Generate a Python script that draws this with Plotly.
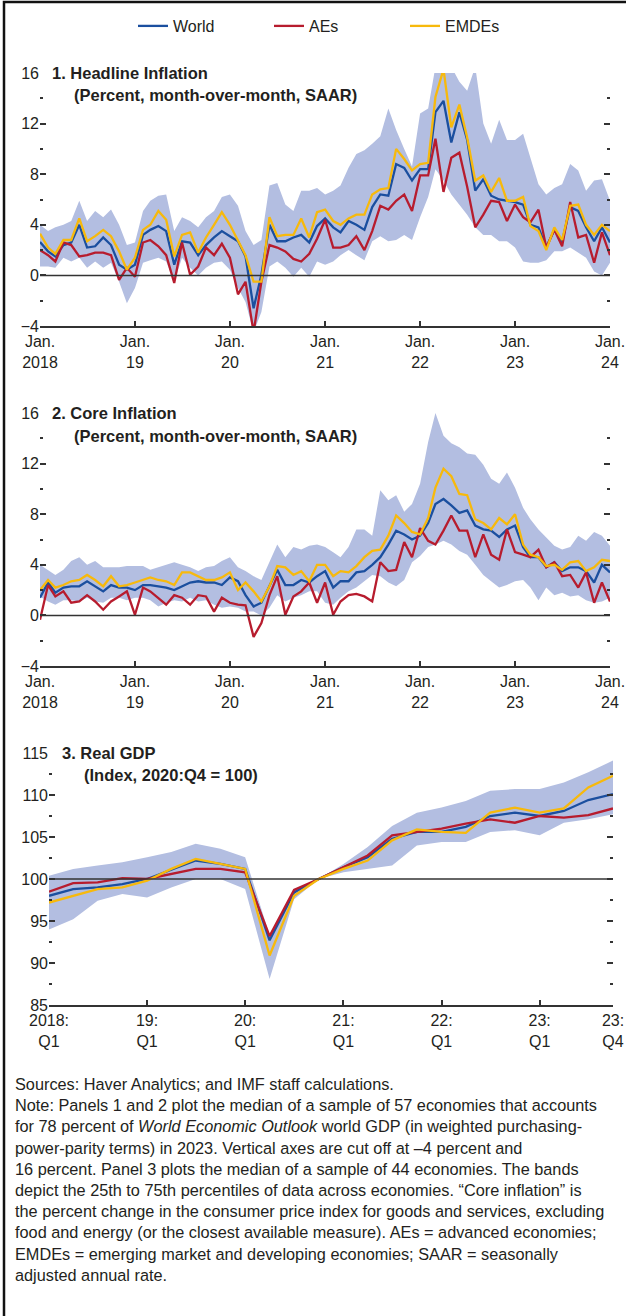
import plotly.graph_objects as go
import pandas as pd

W, H = 626, 1316

# ---------------- DATA ----------------
months = pd.date_range("2018-01-01", "2024-01-01", freq="MS")   # 73 monthly points
quarters = pd.date_range("2018-01-01", "2023-10-01", freq="QS")  # 24 quarterly points

# Panel 1: Headline inflation (percent, m/m SAAR)
hl_world = [2.65, 1.9, 1.5, 2.4, 2.6, 4.0, 2.2, 2.3, 3.0, 2.4, 0.85, 0.45,
            0.85, 3.2, 3.6, 3.9, 3.5, 0.85, 2.7, 2.6, 1.6, 2.4, 3.0, 3.5,
            3.1, 2.7, 1.5, -2.6, 0.05, 4.0, 2.7, 2.7, 3.0, 3.2, 2.6, 3.9,
            4.5, 3.8, 3.4, 4.3, 4.0, 3.6, 5.4, 6.4, 6.3, 8.8, 8.5, 7.5,
            8.4, 8.4, 12.9, 13.8, 10.5, 12.9, 10.7, 6.7, 7.6, 6.3, 6.0, 5.9,
            5.8, 5.6, 4.0, 3.8, 2.2, 3.6, 2.7, 5.4, 5.1, 3.8, 2.7, 3.8,
            2.6]
hl_aes = [2.0, 1.6, 1.1, 2.6, 2.4, 1.5, 1.6, 1.8, 1.8, 1.6, -0.35, 0.6,
          -0.1, 2.6, 2.8, 2.3, 1.6, -0.6, 2.6, 0.05, 0.7, 2.2, 1.6, 2.5,
          1.4, -1.5, -0.5, -4.5, -0.5, 2.4, 2.2, 1.9, 1.3, 1.1, 1.7, 2.9,
          4.4, 2.2, 2.2, 2.4, 3.1, 2.0, 3.5, 5.5, 5.2, 5.9, 6.4, 5.1,
          7.9, 7.9, 10.8, 6.6, 9.3, 9.7, 7.0, 3.8, 4.8, 5.9, 5.8, 4.3,
          5.6, 4.6, 4.2, 5.2, 2.2, 3.6, 2.3, 5.8, 3.0, 3.2, 1.0, 3.4,
          1.6]
hl_emdes = [3.3, 2.2, 1.7, 2.8, 2.8, 4.5, 2.7, 3.1, 3.6, 3.1, 1.9, 0.45,
            1.4, 3.6, 4.0, 5.1, 4.4, 1.5, 3.2, 3.4, 1.8, 3.0, 4.0, 5.0,
            4.0, 2.8, 1.6, -0.5, -0.5, 4.6, 3.1, 3.2, 3.2, 4.5, 3.0, 5.0,
            5.2, 4.3, 4.0, 4.5, 4.8, 4.8, 6.4, 6.8, 6.9, 10.0, 9.2, 8.3,
            8.8, 8.9, 14.1, 16.3, 11.7, 13.5, 10.9, 7.5, 7.9, 6.6, 7.7, 5.9,
            5.9, 6.2, 3.9, 3.5, 2.0, 3.8, 2.8, 5.5, 5.6, 4.0, 3.2, 4.0,
            3.5]
hl_p75 = [4.0, 3.5, 3.8, 4.0, 4.3, 5.9, 4.3, 5.1, 4.6, 5.2, 4.0, 2.4,
          2.6, 5.1, 5.9, 6.3, 6.4, 3.5, 4.6, 4.3, 3.8, 4.6, 5.1, 6.2,
          6.4, 5.5, 3.5, 2.4, 2.8, 7.1, 7.3, 5.6, 5.1, 6.7, 6.7, 6.9,
          6.4, 6.7, 7.1, 8.5, 9.6, 9.9, 10.4, 11.0, 13.2, 11.5, 10.0, 8.6,
          12.8, 13.2, 16.5, 16.5, 16.5, 15.3, 14.6, 16.5, 12.0, 10.4, 12.3, 10.7,
          10.7, 11.2, 9.3, 7.2, 6.4, 6.9, 7.2, 8.8, 8.3, 6.7, 7.5, 7.6,
          5.9]
hl_p25 = [0.7, 0.7, 0.6, 1.4, 1.1, 1.4, 0.6, 1.1, 0.6, 1.0, -0.5, -2.2,
          -1.0, 1.0, 1.2, 1.4, 1.1, -0.5, 1.4, 0.6, 0.0, 0.6, 1.0, 1.1,
          0.45, -1.0, -2.1, -4.5, -2.9, 0.7, 1.1, 0.6, -0.1, 0.6, -0.1, 1.1,
          0.85, 1.1, 1.6, 2.0, 1.6, 1.2, 2.7, 3.1, 2.7, 2.8, 3.2, 2.8,
          4.6, 6.2, 8.4, 7.5, 6.4, 5.6, 4.8, 3.8, 3.2, 3.2, 2.7, 2.7,
          2.2, 1.1, 1.0, 1.0, 1.2, 1.9, 1.9, 2.2, 1.8, 1.4, 0.3, 0.0,
          1.0]

# Panel 2: Core inflation (percent, m/m SAAR)
core_world = [1.4, 2.6, 1.8, 2.2, 2.3, 2.3, 2.7, 2.3, 1.9, 2.4, 2.2, 2.2,
              2.0, 2.4, 2.4, 2.3, 2.2, 2.0, 2.3, 2.6, 2.7, 2.6, 2.6, 2.4,
              3.0, 2.7, 1.6, 0.7, 1.0, 2.3, 3.6, 2.4, 2.4, 2.8, 2.6, 3.1,
              3.5, 2.2, 2.7, 2.7, 3.4, 3.5, 4.0, 4.6, 5.6, 6.7, 6.4, 6.0,
              6.3, 7.3, 8.8, 9.2, 8.7, 8.1, 8.3, 7.1, 6.8, 6.7, 6.2, 6.8,
              7.1, 5.4, 4.6, 4.6, 3.8, 4.2, 3.5, 3.8, 3.8, 3.5, 2.6, 4.0,
              3.4]
core_aes = [-0.35, 2.4, 1.5, 1.9, 1.0, 1.1, 1.6, 1.1, 0.45, 1.1, 1.5, 1.9,
            0.05, 2.2, 1.9, 1.4, 0.85, 1.6, 1.4, 0.85, 1.6, 1.5, 0.3, 1.4,
            1.0, 0.85, 0.8, -1.7, -0.6, 1.6, 3.1, 0.05, 1.5, 1.9, 2.6, 1.0,
            2.6, 0.05, 1.1, 1.6, 1.7, 1.5, 1.1, 4.2, 3.5, 3.6, 5.8, 4.6,
            6.9, 5.9, 5.6, 6.7, 7.9, 6.7, 6.7, 4.6, 6.4, 4.8, 4.4, 6.8,
            5.0, 4.8, 4.6, 5.2, 3.8, 4.2, 3.1, 3.2, 2.2, 3.4, 1.0, 2.6,
            1.1]
core_emdes = [2.0, 2.8, 2.2, 2.4, 2.7, 2.8, 3.2, 2.8, 2.3, 3.1, 2.3, 2.4,
              2.6, 2.8, 3.0, 2.8, 2.7, 2.4, 3.4, 3.4, 3.1, 2.8, 2.8, 3.0,
              3.4, 2.0, 2.6, 1.9, 1.1, 2.3, 3.9, 3.8, 3.2, 3.5, 2.7, 4.0,
              4.0, 3.1, 3.5, 3.4, 3.9, 4.6, 5.1, 5.2, 6.3, 7.9, 7.3, 6.6,
              6.4, 7.7, 10.1, 11.6, 11.0, 9.6, 9.5, 7.6, 7.3, 6.8, 7.7, 7.2,
              8.0, 5.6, 4.8, 4.6, 3.9, 4.0, 3.6, 4.2, 4.3, 3.5, 3.8, 4.4,
              4.3]
core_p75 = [4.0, 3.6, 3.2, 3.6, 4.3, 4.6, 4.0, 4.3, 3.8, 3.8, 3.8, 3.9,
            3.9, 3.9, 3.6, 3.8, 4.0, 4.2, 4.0, 3.8, 3.5, 3.8, 3.9, 4.3,
            4.6, 3.8, 3.5, 3.1, 2.8, 4.3, 5.6, 4.6, 5.4, 5.2, 5.5, 5.6,
            5.4, 5.0, 4.6, 5.4, 6.8, 6.8, 6.3, 9.9, 9.1, 9.5, 8.2, 8.8,
            10.4, 13.7, 16.0, 14.2, 13.6, 13.3, 12.8, 12.7, 11.9, 10.8, 10.4, 11.3,
            10.1, 8.5, 7.6, 6.8, 6.2, 5.5, 5.2, 5.4, 6.3, 5.9, 6.6, 6.3,
            5.5]
core_p25 = [1.5, 1.1, 0.85, 1.2, 1.2, 1.1, 1.4, 1.1, 1.0, 1.4, 1.4, 1.2,
            1.4, 1.4, 1.2, 0.7, 1.0, 1.2, 1.1, 1.4, 1.1, 1.2, 0.85, 0.6,
            0.7, 0.6, 0.3, 0.3, 0.0, 0.6, 1.6, 1.1, 1.4, 1.6, 1.9, 1.9,
            1.0, 0.85, 1.4, 1.9, 2.2, 2.7, 3.2, 3.1, 2.6, 2.3, 2.8, 4.2,
            4.7, 5.4, 5.6, 5.9, 5.6, 5.1, 4.8, 4.0, 3.2, 2.7, 2.2, 2.4,
            2.7, 2.8, 2.2, 1.2, 2.2, 1.6, 1.8, 1.5, 1.6, 1.2, 1.0, 1.1,
            1.4]

# Panel 3: Real GDP (index, 2020:Q4 = 100)
gdp_world = [98.0, 98.8, 99.0, 99.4, 100.0, 101.1, 102.2, 101.8, 101.2, 92.7, 98.4, 100.0,
             101.4, 102.6, 104.8, 105.6, 105.6, 106.2, 107.5, 107.9, 107.5, 108.1, 109.4, 110.1]
gdp_aes = [98.5, 99.5, 99.6, 100.1, 100.0, 100.6, 101.2, 101.2, 100.8, 93.2, 98.7, 100.0,
           101.4, 102.8, 105.2, 105.6, 106.0, 106.6, 107.1, 106.7, 107.5, 107.3, 107.6, 108.4]
gdp_emdes = [97.2, 98.0, 98.8, 99.0, 99.8, 101.2, 102.4, 101.8, 101.2, 90.9, 98.0, 100.0,
             101.2, 102.2, 104.6, 105.9, 105.6, 105.5, 107.9, 108.5, 107.9, 108.4, 110.9, 112.3]
gdp_p75 = [100.4, 101.2, 101.6, 102.0, 102.6, 103.2, 104.2, 103.6, 102.6, 93.3, 98.8, 100.0,
           101.8, 103.8, 106.3, 107.9, 108.5, 109.3, 110.5, 110.7, 110.7, 111.5, 112.7, 114.1]
gdp_p25 = [94.0, 95.2, 97.4, 98.2, 97.8, 99.0, 100.0, 100.0, 98.8, 88.1, 97.6, 100.0,
           100.8, 101.2, 101.6, 104.0, 104.4, 104.4, 105.6, 105.8, 105.2, 106.7, 107.1, 107.7]

series_names = ["World", "AEs", "EMDEs"]
month_ticks = pd.date_range("2018-01-01", "2024-01-01", freq="YS")
month_ticktext = ["Jan.<br>2018", "Jan.<br>19", "Jan.<br>20", "Jan.<br>21",
                  "Jan.<br>22", "Jan.<br>23", "Jan.<br>24"]
quarter_ticks = list(pd.date_range("2018-01-01", "2023-01-01", freq="YS")) + [pd.Timestamp("2023-10-01")]
quarter_ticktext = ["2018:<br>Q1", "19:<br>Q1", "20:<br>Q1", "21:<br>Q1",
                    "22:<br>Q1", "23:<br>Q1", "23:<br>Q4"]

# ---------------- STYLE ----------------
FONT = "Liberation Sans, Arial, Helvetica, sans-serif"
TXT = "#231f20"
COLORS = {"World": "#1b4f9f", "AEs": "#b71c2e", "EMDEs": "#f7b90c"}
BAND = "#b3bee1"
AX = "#333333"

def px_x(p):
    return p / W

def px_y(p):
    return 1 - p / H

fig = go.Figure()

panels = [
    ("x", "y", months, hl_p25, hl_p75, [hl_world, hl_aes, hl_emdes], True),
    ("x2", "y2", months, core_p25, core_p75, [core_world, core_aes, core_emdes], False),
    ("x3", "y3", quarters, gdp_p25, gdp_p75, [gdp_world, gdp_aes, gdp_emdes], False),
]

for xa, ya, xs, lo, hi, lines, show in panels:
    fig.add_trace(go.Scatter(x=xs, y=lo, mode="lines", line=dict(width=0, color=BAND),
                             showlegend=False, hoverinfo="skip", xaxis=xa, yaxis=ya))
    fig.add_trace(go.Scatter(x=xs, y=hi, mode="lines", line=dict(width=0, color=BAND),
                             fill="tonexty", fillcolor=BAND,
                             showlegend=False, hoverinfo="skip", xaxis=xa, yaxis=ya))
    for name, vals in zip(series_names, lines):
        fig.add_trace(go.Scatter(x=xs, y=vals, mode="lines", name=name,
                                 line=dict(color=COLORS[name], width=2.3),
                                 showlegend=show, xaxis=xa, yaxis=ya))

# Axis domains (pixel based)
dom_x12 = [px_x(40), px_x(610)]
dom_x3 = [px_x(49), px_x(613)]
dom_y1 = [px_y(326), px_y(73)]
dom_y2 = [px_y(666), px_y(413)]
dom_y3 = [px_y(1005), px_y(753)]

tickfont = dict(family=FONT, size=16, color=TXT)

def xaxis_cfg(domain, anchor, rng, tickvals, ticktext):
    return dict(domain=domain, anchor=anchor, range=rng, tickvals=tickvals, ticktext=ticktext,
                showline=True, linecolor=AX, linewidth=1.5, ticks="inside", ticklen=5,
                tickwidth=1.5, tickcolor=AX, showgrid=False, zeroline=False,
                tickfont=tickfont, fixedrange=True, automargin=False)

def yaxis_cfg(domain, anchor, rng, tickvals, minorvals):
    return dict(domain=domain, anchor=anchor, range=rng, tickvals=tickvals,
                ticks="inside", ticklen=6, tickwidth=1.5, tickcolor=AX, mirror="ticks",
                showline=False, showgrid=False, zeroline=False, tickfont=tickfont,
                minor=dict(tickvals=minorvals, ticks="inside", ticklen=3, tickwidth=1.5,
                           tickcolor=AX, showgrid=False),
                fixedrange=True, automargin=False)

xr = [months[0], months[-1]]
qr = [quarters[0], quarters[-1]]

fig.update_layout(
    xaxis=xaxis_cfg(dom_x12, "y", xr, month_ticks, month_ticktext),
    xaxis2=xaxis_cfg(dom_x12, "y2", xr, month_ticks, month_ticktext),
    xaxis3=xaxis_cfg(dom_x3, "y3", qr, quarter_ticks, quarter_ticktext),
    yaxis=yaxis_cfg(dom_y1, "x", [-4, 16], [-4, 0, 4, 8, 12, 16], [-2, 2, 6, 10, 14]),
    yaxis2=yaxis_cfg(dom_y2, "x2", [-4, 16], [-4, 0, 4, 8, 12, 16], [-2, 2, 6, 10, 14]),
    yaxis3=yaxis_cfg(dom_y3, "x3", [85, 115], [85, 90, 95, 100, 105, 110, 115],
                     [87.5, 92.5, 97.5, 102.5, 107.5, 112.5]),
)

# Reference lines (0 and 100)
for xa, ya, yv in [("x", "y", 0), ("x2", "y2", 0), ("x3", "y3", 100)]:
    fig.add_shape(type="line", xref=f"{xa} domain", yref=ya, x0=0, x1=1, y0=yv, y1=yv,
                  line=dict(color=AX, width=1.5), layer="above")

# Panel titles
title_font = dict(family=FONT, size=16.5, color=TXT)
titles = [
    ("<b>1. Headline Inflation</b>", 50, 73),
    ("<b>(Percent, month-over-month, SAAR)</b>", 72, 95),
    ("<b>2. Core Inflation</b>", 50, 413),
    ("<b>(Percent, month-over-month, SAAR)</b>", 72, 436),
    ("<b>3. Real GDP</b>", 60, 753),
    ("<b>(Index, 2020:Q4 = 100)</b>", 82, 775),
]
for t, x, y in titles:
    fig.add_annotation(text=t, x=px_x(x), y=px_y(y), xref="paper", yref="paper",
                       xanchor="left", yanchor="middle", showarrow=False, font=title_font)

notes = ("Sources: Haver Analytics; and IMF staff calculations.<br>"
         "Note: Panels 1 and 2 plot the median of a sample of 57 economies that accounts<br>"
         "for 78 percent of <i>World Economic Outlook</i> world GDP (in weighted purchasing-<br>"
         "power-parity terms) in 2023. Vertical axes are cut off at \u20134 percent and<br>"
         "16 percent. Panel 3 plots the median of a sample of 44 economies. The bands<br>"
         "depict the 25th to 75th percentiles of data across economies. \u201cCore inflation\u201d is<br>"
         "the percent change in the consumer price index for goods and services, excluding<br>"
         "food and energy (or the closest available measure). AEs = advanced economies;<br>"
         "EMDEs = emerging market and developing economies; SAAR = seasonally<br>"
         "adjusted annual rate.")
fig.add_annotation(text=notes, x=px_x(13), y=px_y(1073), xref="paper", yref="paper",
                   xanchor="left", yanchor="top", align="left", showarrow=False,
                   font=dict(family=FONT, size=16.3, color=TXT))

# Frame
fig.add_shape(type="rect", xref="paper", yref="paper", x0=px_x(4), x1=1.02, y0=-0.02,
              y1=px_y(2), line=dict(color="#111111", width=2.5), layer="above")

fig.update_layout(
    width=W, height=H, autosize=False,
    margin=dict(l=0, r=0, t=0, b=0, pad=0, autoexpand=False),
    paper_bgcolor="white", plot_bgcolor="white",
    font=dict(family=FONT, size=16, color=TXT),
    showlegend=True,
    legend=dict(orientation="h", x=px_x(133), y=px_y(26), xanchor="left", yanchor="middle",
                font=dict(family=FONT, size=16, color=TXT), bgcolor="rgba(0,0,0,0)",
                traceorder="normal", entrywidth=91, itemwidth=30),
)

fig.write_html(
    "out.html",
    config={"responsive": False, "displayModeBar": False},
    post_script="document.body.style.margin='0';document.documentElement.style.overflow='hidden';document.body.style.overflow='hidden';",
)
